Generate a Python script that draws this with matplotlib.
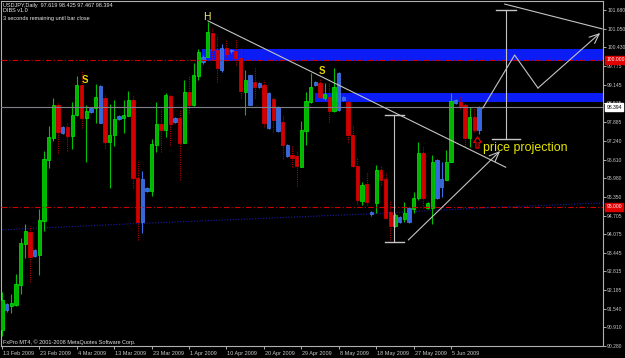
import matplotlib
matplotlib.use("Agg")
import matplotlib.pyplot as plt
from matplotlib.patches import Rectangle
from matplotlib.path import Path
from matplotlib.transforms import blended_transform_factory, offset_copy

# ---------------- data (USDJPY daily) ----------------
opens = [90.82, 91.50, 91.64, 91.67, 92.35, 93.74, 94.15, 93.34, 93.37, 94.53,
         96.60, 97.34, 98.46, 97.51, 97.72, 97.41, 98.12, 99.14, 98.02, 98.23,
         98.36, 97.85, 98.70, 97.21, 97.45, 97.99, 98.02, 98.09, 98.63, 95.99,
         94.49, 95.54, 95.54, 97.11, 97.82, 97.62, 98.77, 97.89, 98.02, 97.17,
         98.91, 98.46, 99.45, 99.92, 100.09, 100.91, 100.33, 99.65, 100.40, 100.30,
         100.30, 100.06, 98.91, 98.46, 99.25, 99.08, 99.14, 97.68, 98.67, 97.58,
         97.89, 96.73, 96.77, 96.73, 96.36, 97.58, 98.57, 99.14, 99.21, 98.70,
         98.74, 98.26, 98.29, 98.63, 98.57, 97.45, 96.39, 95.20, 95.78, 94.76,
         95.14, 96.26, 95.95, 94.83, 94.35, 94.49, 94.59, 94.49, 94.93, 95.31,
         96.83, 94.97, 94.97, 95.31, 95.68, 95.92, 96.53, 98.53, 98.57, 98.46,
         97.34, 98.06, 97.619]
highs = [92.11, 91.74, 92.05, 92.73, 93.95, 94.42, 94.35, 93.57, 94.93, 96.90,
         97.75, 98.70, 98.57, 97.75, 97.89, 98.57, 99.45, 99.65, 98.46, 98.40,
         99.18, 99.14, 98.84, 98.50, 98.63, 98.12, 98.63, 98.94, 98.80, 96.56,
         96.22, 95.68, 97.31, 98.57, 98.33, 98.87, 98.80, 98.06, 98.29, 99.31,
         99.45, 99.89, 100.37, 100.16, 101.28, 101.08, 100.84, 100.54, 100.71, 100.37,
         100.71, 100.40, 99.65, 99.48, 99.72, 99.25, 99.31, 98.91, 98.74, 98.43,
         98.12, 97.14, 97.07, 96.94, 97.92, 98.91, 99.55, 99.28, 99.38, 99.21,
         99.21, 99.72, 99.58, 98.77, 98.63, 97.79, 96.66, 95.85, 96.19, 94.87,
         96.43, 96.43, 96.16, 95.24, 94.80, 94.69, 95.17, 95.00, 95.51, 97.21,
         97.07, 95.17, 96.77, 96.63, 96.53, 96.94, 98.87, 98.67, 98.74, 98.53,
         98.40, 98.40, 98.425]
lows = [90.62, 91.44, 91.40, 91.64, 92.05, 93.27, 92.45, 93.30, 92.69, 94.19,
        96.33, 97.24, 96.83, 97.48, 96.90, 96.97, 98.09, 97.68, 96.53, 98.19,
        97.85, 97.85, 97.00, 95.65, 97.07, 97.95, 97.51, 98.09, 95.65, 93.88,
        94.12, 95.51, 95.37, 96.87, 96.87, 97.38, 97.11, 97.85, 95.92, 97.17,
        98.19, 98.43, 99.31, 99.86, 100.09, 99.99, 99.25, 99.58, 100.09, 100.23,
        99.82, 98.70, 98.12, 98.46, 98.70, 99.04, 97.72, 97.65, 97.55, 97.55,
        96.63, 96.70, 96.36, 95.71, 96.36, 97.11, 98.53, 99.11, 98.70, 98.63,
        97.89, 98.23, 98.26, 98.60, 97.21, 96.36, 95.10, 95.07, 95.07, 94.69,
        94.80, 95.75, 94.63, 93.88, 94.32, 94.46, 94.49, 94.46, 94.80, 95.24,
        94.97, 94.93, 94.42, 95.27, 95.34, 95.92, 96.53, 98.50, 98.33, 97.04,
        97.04, 97.55, 97.467]
closes = [91.84, 91.71, 91.74, 92.39, 93.78, 94.19, 93.30, 93.54, 94.56, 96.63,
          97.38, 98.46, 97.55, 97.72, 97.41, 98.12, 99.14, 98.02, 98.26, 98.36,
          98.74, 99.11, 97.21, 97.45, 97.99, 98.09, 98.12, 98.63, 95.99, 94.49,
          95.95, 95.65, 97.14, 97.82, 97.62, 98.80, 97.82, 98.02, 97.17, 98.91,
          98.46, 99.48, 100.26, 100.09, 100.94, 100.33, 99.72, 100.40, 100.20, 100.33,
          100.06, 98.94, 99.31, 99.48, 99.08, 99.21, 97.85, 98.87, 97.95, 98.40,
          97.11, 97.11, 96.66, 96.39, 97.62, 98.60, 99.08, 99.25, 98.74, 98.84,
          98.26, 99.08, 99.55, 98.74, 97.45, 96.39, 95.24, 95.75, 95.17, 94.83,
          96.26, 95.92, 94.63, 94.35, 94.73, 94.66, 94.80, 94.97, 95.31, 96.83,
          95.31, 95.14, 96.53, 96.60, 95.95, 96.53, 98.60, 98.63, 98.43, 97.34,
          98.06, 97.62, 98.394]
# g = bull, r = bear, b = DIBS highlighted bar
kinds = ("gbggggrbgg" "ggrbrggrgb" "gbrggbggrr" "bbggrgrbrg" "rggbgrrbrb"
         "rrgbrbrbrb" "rbrrgggbrg" "rgbbrrrgrb" "grrrgbgbgg" "rggbbggbrr" "grb")

date_labels = ["13 Feb 2009", "23 Feb 2009", "4 Mar 2009", "13 Mar 2009", "23 Mar 2009",
               "1 Apr 2009", "10 Apr 2009", "20 Apr 2009", "29 Apr 2009", "8 May 2009",
               "18 May 2009", "27 May 2009", "5 Jun 2009"]
date_step = 8
price_ticks = [101.680, 101.050, 100.430, 99.775, 99.145, 98.515, 97.885, 97.240,
               96.610, 95.980, 95.350, 94.705, 94.075, 93.445, 92.815, 92.185,
               91.540, 90.910, 90.280]
level_lines = [100.0, 95.0]
ma_idx = [-0.5, 26.3, 52.0, 77.6, 103.3, 128.5]
ma_vals = [94.22, 94.42, 94.59, 94.76, 94.97, 95.14]

# drawing objects (bar index, price)
zones = [(42.8, 99.96, 100.37), (67.0, 98.57, 98.87)]
down_trend = [(44.05, 101.32), (107.7, 96.35)]
up_arrow = [(86.87, 93.88), (106.5, 96.90)]
measure1 = (83.9, 93.81, 98.12, 2.0)
measure2 = (107.7, 97.31, 101.69, 3.0, 2.1)
top_line = [(107.5, 101.89), (128.3, 101.05)]
zigzag = [(102.8, 98.36), (109.6, 100.16), (114.6, 99.04), (127.9, 100.91)]
signal_arrow = (101.6, 97.20)

# ---------------- figure ----------------
W, H = 625, 358
fig = plt.figure(figsize=(W / 100, H / 100), dpi=100, facecolor="black")
ax = fig.add_axes([1 / W, 12 / H, 602 / W, 345 / H], facecolor="black")
ax.set_xlim(-0.214, 128.5)
ax.set_ylim(90.28, 101.995)

FONT = "Liberation Sans"
GRAY = "#c8c8c8"

for s in ax.spines.values():
    s.set_color("#b0b0b0")
    s.set_linewidth(0.8)

# zones
for x0, lo, hi in zones:
    ax.add_patch(Rectangle((x0, lo), 200, hi - lo, facecolor="#0c1cf5",
                           edgecolor="none", zorder=1))

# moving average (dotted navy)
ax.plot(ma_idx, ma_vals, color="#1c1ca8", lw=0.8, ls=(0, (1, 1.5)), zorder=2)

# candles
colors = {"g": ("#00b400", "#00ee00", "#00c000"),
          "r": ("#d40000", "#e00000", "#b00000"),
          "b": ("#3468e0", "#4a7cf0", "#3a6ee6")}
for i, k in enumerate(kinds):
    fc, ec, wc = colors[k]
    ls = (0, (1, 1)) if k == "r" else "-"
    ax.vlines(i, lows[i], highs[i], color=wc, lw=0.8, linestyles=[ls], zorder=3)
for i, k in enumerate(kinds):
    fc, ec, wc = colors[k]
    lo = min(opens[i], closes[i])
    h = max(abs(closes[i] - opens[i]), 0.035)
    ax.bar(i, h, bottom=lo, width=0.7, color=fc, edgecolor=ec, lw=0.5, zorder=4)

# horizontal levels
for lv in level_lines:
    ax.axhline(lv, color="#d00000", lw=0.8, ls=(0, (5, 2, 1, 2)), zorder=5)
bid = closes[-1]
ax.axhline(bid, color="#80808a", lw=0.8, zorder=5)

# drawing objects
LC = "#c4c4c4"
ax.plot(*zip(*down_trend), color=LC, lw=0.8, zorder=6)
ax.annotate("", xy=up_arrow[1], xytext=up_arrow[0],
            arrowprops=dict(arrowstyle="->,head_length=0.7,head_width=0.3",
                            color=LC, lw=0.8, shrinkA=0, shrinkB=0), zorder=6)
mx, mlo, mhi, mw = measure1
ax.plot([mx, mx], [mlo, mhi], color=LC, lw=0.8, zorder=6)
ax.plot([mx - mw, mx + mw], [mlo, mlo], color=LC, lw=1.0, zorder=6)
ax.plot([mx - mw, mx + mw], [mhi, mhi], color=LC, lw=1.0, zorder=6)
mx, mlo, mhi, mwb, mwt = measure2
ax.plot([mx, mx], [mlo, mhi], color=LC, lw=0.8, zorder=6)
ax.plot([mx - mwb, mx + mwb], [mlo, mlo], color=LC, lw=1.0, zorder=6)
ax.plot([mx - mwt, mx + mwt], [mhi, mhi], color=LC, lw=1.0, zorder=6)
ax.plot(*zip(*top_line), color=LC, lw=0.8, zorder=6)
ax.plot(*zip(*zigzag[:-1]), color=LC, lw=0.8, zorder=6)
ax.annotate("", xy=zigzag[-1], xytext=zigzag[-2],
            arrowprops=dict(arrowstyle="->,head_length=0.7,head_width=0.3",
                            color=LC, lw=0.8, shrinkA=0, shrinkB=0), zorder=6)

# hollow red up-arrow marker
arrow_path = Path([(-0.28, -1), (0.28, -1), (0.28, 0), (0.7, 0), (0, 1),
                   (-0.7, 0), (-0.28, 0), (-0.28, -1)], closed=True)
ax.plot([signal_arrow[0]], [signal_arrow[1]], marker=arrow_path, markersize=8,
        markerfacecolor="none", markeredgecolor="#e00000", mew=0.9, ls="none", zorder=7)

# labels on chart
ax.text(43.8, 101.45, "H", color="#f0f070", fontsize=7.5, family=FONT,
        ha="center", va="center", zorder=7)
ax.text(17.7, 99.31, "S", color="#e8d800", fontsize=7, family=FONT,
        fontweight="bold", ha="center", va="center", zorder=7)
ax.text(68.4, 99.62, "S", color="#e8d800", fontsize=7, family=FONT,
        fontweight="bold", ha="center", va="center", zorder=7)
ax.text(102.8, 97.0, "price projection", color="#e6e600", fontsize=8.9,
        family=FONT, ha="left", va="center", zorder=7)

# axes ticks
ax.yaxis.tick_right()
ax.set_yticks(price_ticks)
ax.set_yticklabels([f"{p:.3f}" for p in price_ticks], family=FONT)
ax.tick_params(axis="y", colors=GRAY, labelsize=3.6, length=2.2, width=0.6, pad=0.8)
ax.set_xticks([i * date_step for i in range(len(date_labels))])
ax.set_xticklabels(date_labels, family=FONT, ha="left")
ax.tick_params(axis="x", colors=GRAY, labelsize=4.0, length=2.5, width=0.6, pad=1.2)
for lbl in ax.get_xticklabels():
    lbl.set_transform(offset_copy(lbl.get_transform(), fig=fig, x=1, units="dots"))

# price boxes on right axis
bt = blended_transform_factory(ax.transAxes, ax.transData)
for lv in level_lines:
    ax.text(1.006, lv, f"{lv:.3f}", transform=bt, fontsize=3.6, family=FONT,
            color="white", ha="left", va="center", clip_on=False, zorder=10,
            bbox=dict(boxstyle="square,pad=0.25", fc="#e00000", ec="#e00000"))
ax.text(1.006, bid, f"{bid:.3f}", transform=bt, fontsize=3.6, family=FONT,
        color="black", ha="left", va="center", clip_on=False, zorder=10,
        bbox=dict(boxstyle="square,pad=0.25", fc="white", ec="white"))

# header texts
hdr = f"USDJPY,Daily  {opens[-1]:.3f} {highs[-1]:.3f} {lows[-1]:.3f} {closes[-1]:.3f}"
fig.text(3 / W, 1 - 5 / H, hdr, color="#e8e8e8", fontsize=4.0, family=FONT, va="center")
fig.text(3 / W, 1 - 11 / H, "DIBS v1.0", color="#e8e8e8", fontsize=4.0, family=FONT, va="center")
fig.text(3 / W, 1 - 18.5 / H, "3 seconds remaining until bar close", color="#e8e8e8",
         fontsize=4.0, family=FONT, va="center")
fig.text(3 / W, 1 - 342 / H, "FxPro MT4, \u00a9 2001-2008 MetaQuotes Software Corp.",
         color="#e0e0e0", fontsize=4.0, family=FONT, va="center")

fig.savefig("out.png", dpi=100, facecolor="black")
